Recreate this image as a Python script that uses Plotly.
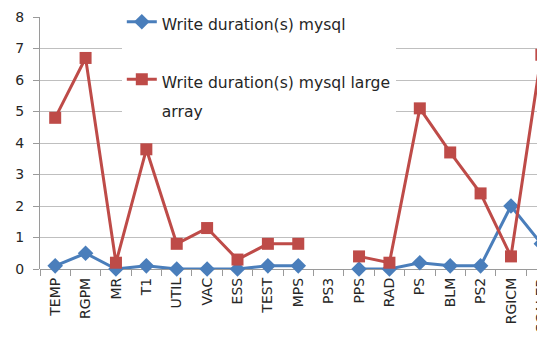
import plotly.graph_objects as go

categories = ["TEMP", "RGPM", "MR", "T1", "UTIL", "VAC", "ESS", "TEST", "MPS", "PS3",
              "PPS", "RAD", "PS", "BLM", "PS2", "RGICM", "SCALER"]
mysql = [0.1, 0.5, 0.0, 0.1, 0.0, 0.0, 0.0, 0.1, 0.1, None,
         0.0, 0.0, 0.2, 0.1, 0.1, 2.0, 0.8]
mysql_large = [4.8, 6.7, 0.2, 3.8, 0.8, 1.3, 0.3, 0.8, 0.8, None,
               0.4, 0.2, 5.1, 3.7, 2.4, 0.4, 6.8]
y_ticks = [0, 1, 2, 3, 4, 5, 6, 7, 8]
series_names = ["Write duration(s) mysql", "Write duration(s) mysql large", "array"]

blue = "#4A7EBB"
red = "#BE4B48"
font = "DejaVu Sans"
lg = "<span style='font-size:15.6px'>{}</span>"

fig = go.Figure()
fig.add_trace(go.Scatter(
    x=categories, y=mysql, mode="lines+markers",
    name=lg.format(series_names[0]),
    line=dict(color=blue, width=3),
    marker=dict(symbol="diamond", size=12, color=blue),
    cliponaxis=False, legendgroup="a",
))
fig.add_trace(go.Scatter(
    x=categories, y=mysql_large, mode="lines+markers",
    name=lg.format(series_names[1]) + "<br>" + lg.format(series_names[2]),
    line=dict(color=red, width=3),
    marker=dict(symbol="square", size=12, color=red),
    cliponaxis=False, legendgroup="b",
))

fig.update_layout(
    width=537, height=333,
    margin=dict(l=32, r=0, t=0, b=72, autoexpand=False),
    paper_bgcolor="white", plot_bgcolor="white",
    font=dict(family=font, size=14, color="#262626"),
    showlegend=True,
    legend=dict(
        x=0.162, y=1.027, xanchor="left", yanchor="top",
        bgcolor="white", valign="top", tracegroupgap=26,
        font=dict(size=22, family=font, color="#262626"),
        traceorder="grouped",
    ),
    xaxis=dict(
        type="category", range=[-0.5, 16.12], automargin=False,
        showgrid=False, showline=False,
        ticks="outside", tickson="boundaries", ticklen=6, tickcolor="#9A9A9A",
        tickangle=-90, tickfont=dict(size=14), ticklabelstandoff=5,
        zeroline=False,
    ),
    yaxis=dict(
        range=[0, 8], tickvals=y_ticks, domain=[0, 0.9655], automargin=False,
        showgrid=True, gridcolor="#BFBFBF", gridwidth=1,
        showline=True, linecolor="#9A9A9A", linewidth=1,
        ticks="outside", ticklen=6, tickcolor="#9A9A9A",
        zeroline=True, zerolinecolor="#9A9A9A", zerolinewidth=1,
        tickfont=dict(size=14), ticklabelstandoff=6,
    ),
)

fig.write_html("out.html")
